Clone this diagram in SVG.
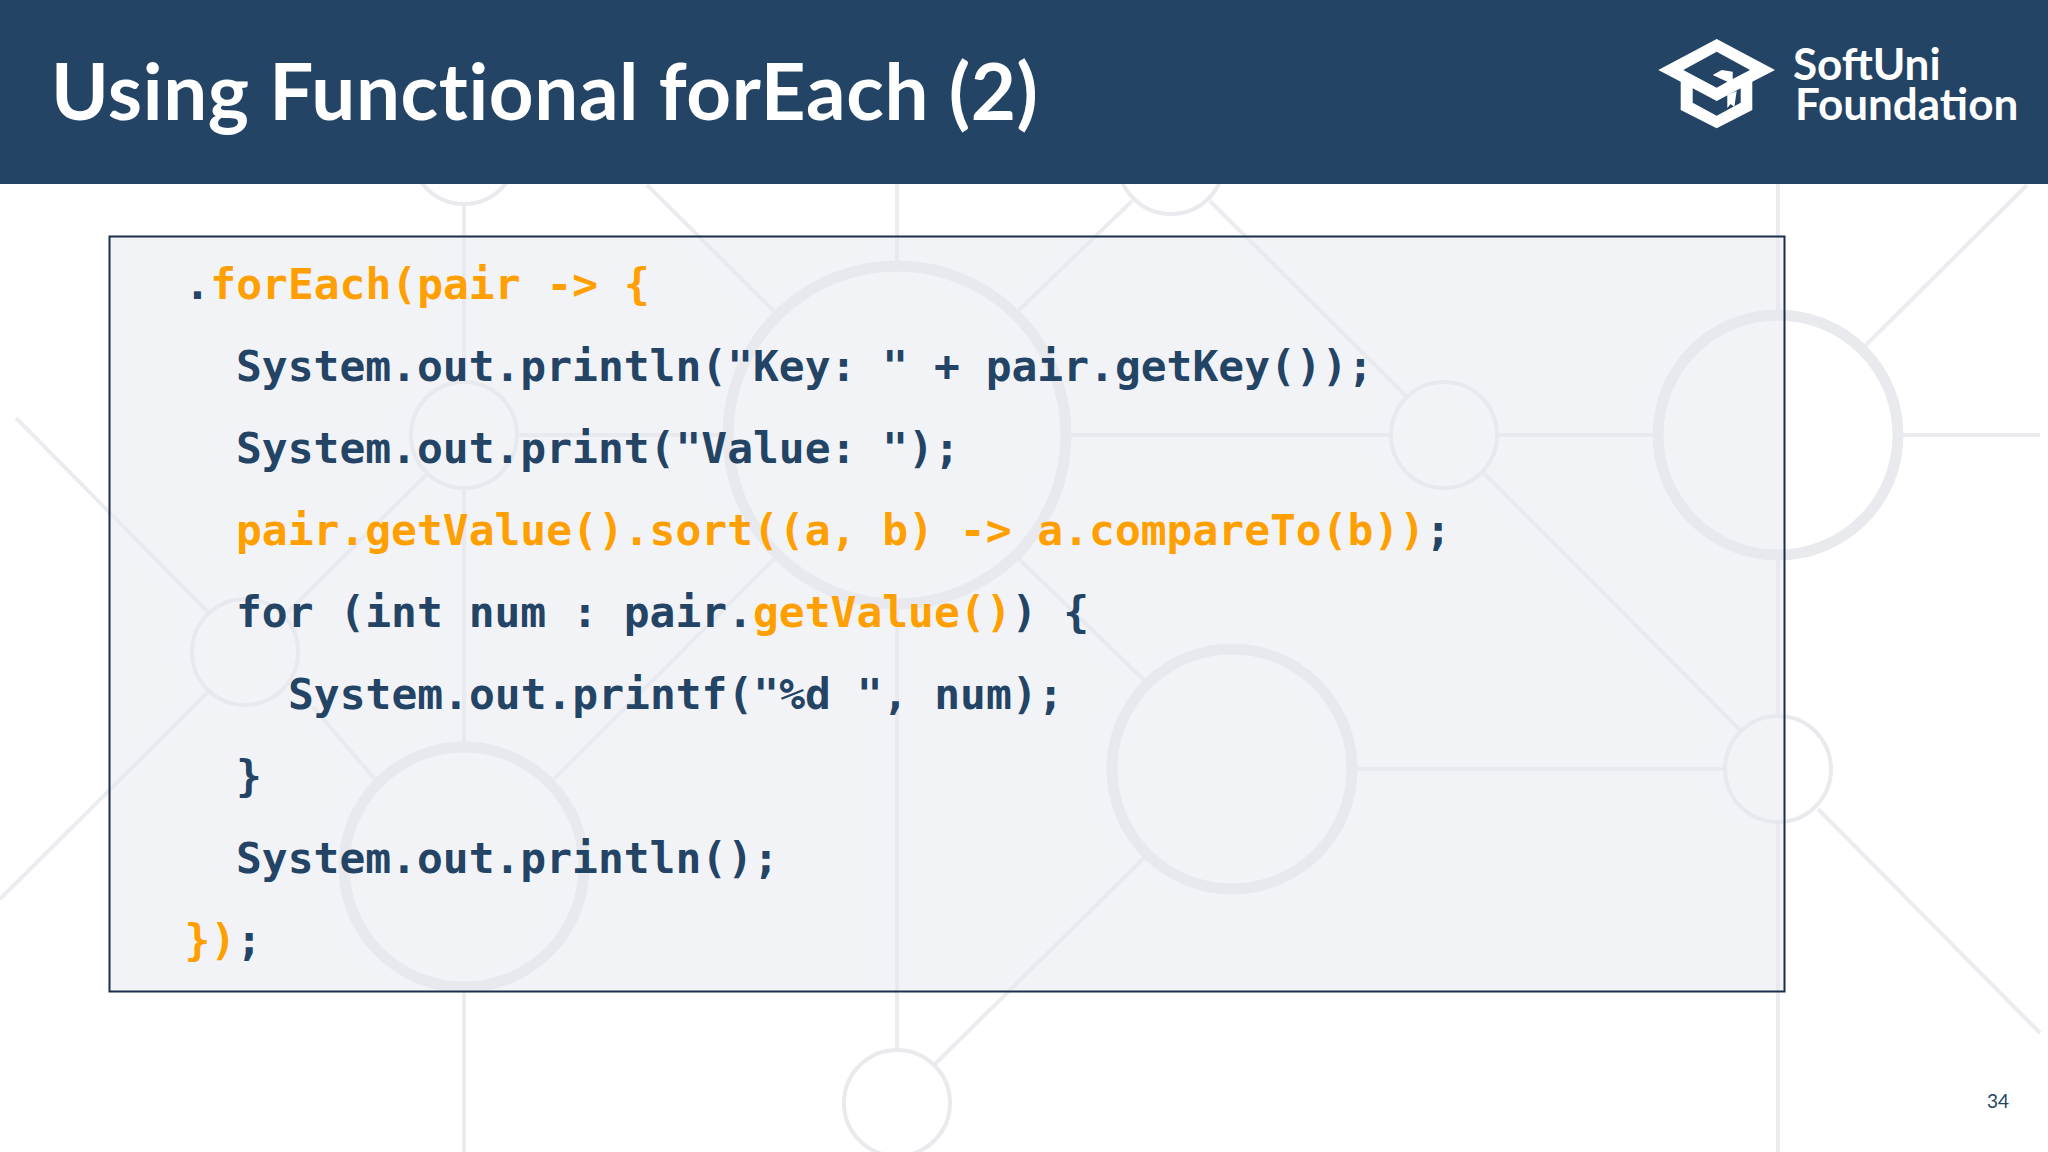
<svg xmlns="http://www.w3.org/2000/svg" width="2048" height="1152" viewBox="0 0 2048 1152">
<style>
.l{stroke:#ebecf0;stroke-width:4;fill:none}
.c1{stroke:#e9eaee;stroke-width:4;fill:none}
.c2{stroke:#e9eaee;stroke-width:11;fill:none}
.code{font-family:"DejaVu Sans Mono","Liberation Mono",monospace;font-weight:700;font-size:42.95px;fill:#234465;white-space:pre}
.o{fill:#ffa000}
</style>
<rect width="2048" height="1152" fill="#ffffff"/>
<g id="background-connectors">
<path class="l" d="M464 205V381M464 489V743M464 991V1152M897 184V262M897 608V1050M1778 184V311M1778 559V715M1778 823V1152M518 435H729M1066 435H1390M1498 435H1653M1902 435H2040M1356 769H1724"/>
<path class="l" d="M16 418L209 613M0 899L209 691M313 707L379 784M549 784L777 556M1019 310L1132 201M647 185L777 314M1019 559L1148 684M1210 201L1406 396M1484 473L1742 732M1863 348L2027 185M1818 809L2040 1033M1148 854L934 1065M428 473L287 613"/>
</g>
<g id="background-nodes">
<circle class="c1" cx="464" cy="151" r="53"/>
<circle class="c1" cx="1171" cy="161" r="53"/>
<circle class="c1" cx="464" cy="435" r="53"/>
<circle class="c1" cx="1444" cy="435" r="53"/>
<circle class="c1" cx="245" cy="652" r="53"/>
<circle class="c1" cx="1778" cy="769" r="53"/>
<circle class="c1" cx="897" cy="1103" r="53"/>
<circle class="c2" cx="897" cy="435" r="169"/>
<circle class="c2" cx="1778" cy="435" r="120"/>
<circle class="c2" cx="1232" cy="769" r="120"/>
<circle class="c2" cx="464" cy="867" r="120"/>
</g>
<g id="code-box">
<rect x="109.500" y="236.500" width="1675" height="755" fill="#e5e7ef" fill-opacity=".5" stroke="#1b2f4a" stroke-width="2"/>
<text class="code" x="184.500" y="299"><tspan>.</tspan><tspan class="o">forEach(pair -&gt; {</tspan></text>
<text class="code" x="236" y="381">System.out.println("Key: " + pair.getKey());</text>
<text class="code" x="236" y="463">System.out.print("Value: ");</text>
<text class="code" x="236" y="545"><tspan class="o">pair.getValue().sort((a, b) -&gt; a.compareTo(b))</tspan><tspan>;</tspan></text>
<text class="code" x="236" y="627">for (int num : pair.<tspan class="o">getValue()</tspan>) {</text>
<text class="code" x="288" y="709">System.out.printf("%d ", num);</text>
<text class="code" x="236" y="791">}</text>
<text class="code" x="236" y="873">System.out.println();</text>
<text class="code" x="184.500" y="955"><tspan class="o">})</tspan>;</text>
</g>
<g id="header">
<rect width="2048" height="184" fill="#234465"/>
<text x="51" y="120" font-family="Lato,'Open Sans',sans-serif" font-weight="700" font-size="78" fill="#ffffff" style="font-variant-ligatures:none" textLength="987" lengthAdjust="spacing">Using Functional forEach (2)</text>
</g>
<g id="logo">
<path fill="#ffffff" fill-rule="evenodd" d="M1716.700 39L1775 70L1752.300 81.700V110L1716.700 128.300L1680.700 110V81.700L1658.300 70ZM1716.700 51.700L1683.300 70L1716.700 87.700L1727.300 81.700L1712.700 75L1721.700 70L1732.700 71.700V79L1750 70ZM1692.700 88.300V102.700L1716.700 115.700L1740.700 102.700V88.300L1716.700 101Z"/>
<path fill="#ffffff" d="M1727.300 95V108L1730.700 104L1734.300 107L1736.700 91Z"/>
<text x="1793" y="80" font-family="Lato,sans-serif" font-weight="700" font-size="44" fill="#ffffff">SoftUni</text>
<text x="1795" y="120" font-family="Lato,sans-serif" font-weight="700" font-size="44" fill="#ffffff">Foundation</text>
</g>
<g id="page-number">
<text x="1987" y="1108" font-family="Lato,sans-serif" font-size="19" fill="#234465">34</text>
</g>
</svg>
